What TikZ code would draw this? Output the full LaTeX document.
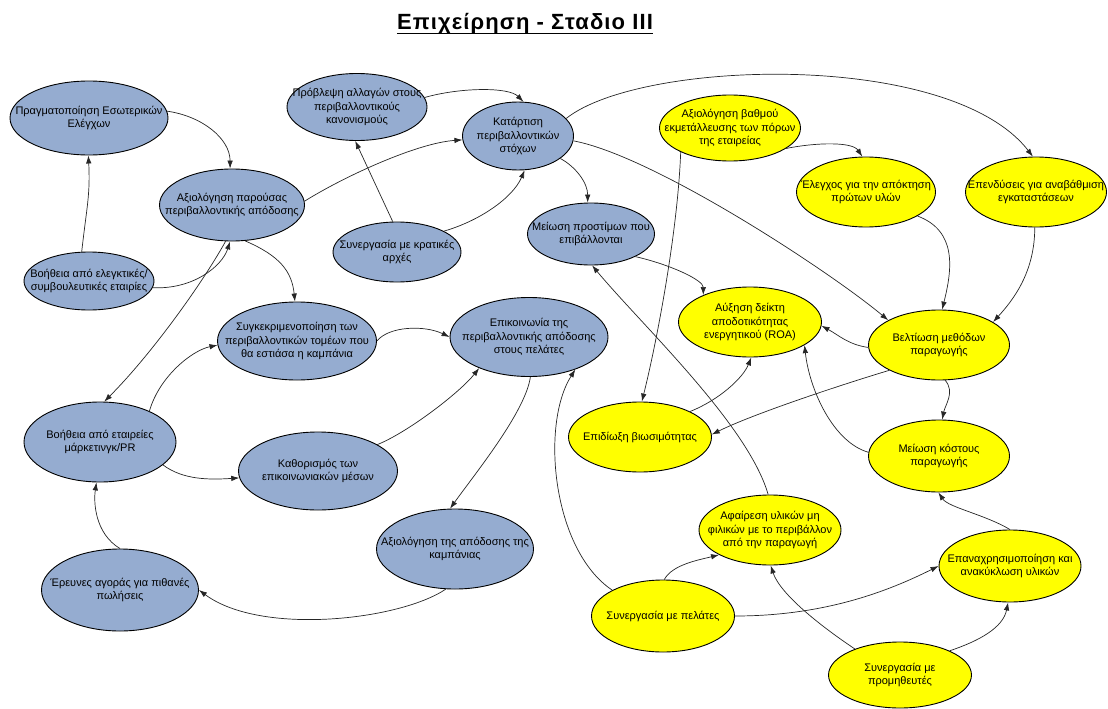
\documentclass[tikz,border=0pt]{standalone}
\usepackage{fontspec}
\setmainfont{Liberation Sans}
\newfontfamily\titlefont[LetterSpace=5]{Liberation Sans Bold}
\usetikzlibrary{shapes.geometric,arrows.meta}
\definecolor{stageblue}{RGB}{149,172,208}
\definecolor{stageyellow}{RGB}{255,255,0}

\begin{document}
\begin{tikzpicture}[x=1pt,y=-1pt,
    goal/.style={ellipse,draw=black,line width=0.9pt,inner sep=0pt},
    bluegoal/.style={goal,fill=stageblue},
    yellowgoal/.style={goal,fill=stageyellow},
    goaltext/.style={align=center,inner sep=0pt,font=\fontsize{11}{13.5}\selectfont},
    link/.style={draw=black!85,line width=0.7pt,-{Latex[length=8pt,width=5.5pt]}}]
\useasboundingbox (0,0) rectangle (1108,709);

% Title
\node[anchor=base,inner sep=0pt,font=\titlefont\fontsize{22}{26}\selectfont] (title) at (525,30) {Επιχείρηση - Σταδιο III};%
\draw[line width=1.8pt] ([yshift=-3.5pt]title.base west) -- ([yshift=-3.5pt]title.base east);%

% Drawing blue goals
\node[bluegoal,minimum width=158pt,minimum height=74pt,label={[goaltext]center:{Πραγματοποίηση Εσωτερικών\\Ελέγχων}}] (prag) at (89,118) {};%
\node[bluegoal,minimum width=145pt,minimum height=72pt,label={[goaltext]center:{Αξιολόγηση παρούσας\\περιβαλλοντικής απόδοσης}}] (apar) at (232,205) {};%
\node[bluegoal,minimum width=130pt,minimum height=58pt,label={[goaltext]center:{Βοήθεια από ελεγκτικές/\\συμβουλευτικές εταιρίες}}] (velegk) at (89,281) {};%
\node[bluegoal,minimum width=140pt,minimum height=67pt,label={[goaltext]center:{Πρόβλεψη αλλαγών στους\\περιβαλλοντικούς\\κανονισμούς}}] (prov) at (357,107) {};%
\node[bluegoal,minimum width=111pt,minimum height=68pt,label={[goaltext]center:{Κατάρτιση\\περιβαλλοντικών\\στόχων}}] (katart) at (518,136) {};%
\node[bluegoal,minimum width=128pt,minimum height=60pt,label={[goaltext]center:{Συνεργασία με κρατικές\\αρχές}}] (kratikes) at (397,252) {};%
\node[bluegoal,minimum width=127pt,minimum height=62pt,label={[goaltext]center:{Μείωση προστίμων που\\επιβάλλονται}}] (prostima) at (591,234) {};%
\node[bluegoal,minimum width=159pt,minimum height=78pt,label={[goaltext]center:{Συγκεκριμενοποίηση των\\περιβαλλοντικών τομέων που\\θα εστιάσα η καμπάνια}}] (sygk) at (297,341) {};%
\node[bluegoal,minimum width=158pt,minimum height=79pt,label={[goaltext]center:{Επικοινωνία της\\περιβαλλοντικής απόδοσης\\στους πελάτες}}] (epik) at (529,337) {};%
\node[bluegoal,minimum width=152pt,minimum height=80pt,label={[goaltext]center:{Βοήθεια από εταιρείες\\μάρκετινγκ/PR}}] (vmark) at (100,442) {};%
\node[bluegoal,minimum width=159pt,minimum height=78pt,label={[goaltext]center:{Καθορισμός των\\επικοινωνιακών μέσων}}] (kath) at (318,471) {};%
\node[bluegoal,minimum width=157pt,minimum height=80pt,label={[goaltext]center:{Αξιολόγηση της απόδοσης της\\καμπάνιας}}] (akamp) at (455,549) {};%
\node[bluegoal,minimum width=157pt,minimum height=82pt,label={[goaltext]center:{Έρευνες αγοράς για πιθανές\\πωλήσεις}}] (erevnes) at (120,590) {};%

% Drawing yellow goals
\node[yellowgoal,minimum width=141pt,minimum height=66pt,label={[goaltext]center:{Αξιολόγηση βαθμού\\εκμετάλλευσης των πόρων\\της εταιρείας}}] (avath) at (730,128) {};%
\node[yellowgoal,minimum width=139pt,minimum height=70pt,label={[goaltext]center:{Έλεγχος για την απόκτηση\\πρώτων υλών}}] (elegxos) at (866,192) {};%
\node[yellowgoal,minimum width=141pt,minimum height=70pt,label={[goaltext]center:{Επενδύσεις για αναβάθμιση\\εγκαταστάσεων}}] (epend) at (1036,192) {};%
\node[yellowgoal,minimum width=143pt,minimum height=70pt,label={[goaltext]center:{Αύξηση δείκτη\\αποδοτικότητας\\ενεργητικού (ROA)}}] (afxisi) at (750,322) {};%
\node[yellowgoal,minimum width=141pt,minimum height=70pt,label={[goaltext]center:{Βελτίωση μεθόδων\\παραγωγής}}] (veltiosi) at (939,345) {};%
\node[yellowgoal,minimum width=143pt,minimum height=70pt,label={[goaltext]center:{Επιδίωξη βιωσιμότητας}}] (epidioxi) at (640,437) {};%
\node[yellowgoal,minimum width=141pt,minimum height=72pt,label={[goaltext]center:{Μείωση κόστους\\παραγωγής}}] (mkostous) at (939,456) {};%
\node[yellowgoal,minimum width=142pt,minimum height=70pt,label={[goaltext]center:{Αφαίρεση υλικών μη\\φιλικών με το περιβάλλον\\από την παραγωγή}}] (afairesi) at (770,530) {};%
\node[yellowgoal,minimum width=142pt,minimum height=72pt,label={[goaltext]center:{Επαναχρησιμοποίηση και\\ανακύκλωση υλικών}}] (epanax) at (1010,566) {};%
\node[yellowgoal,minimum width=143pt,minimum height=72pt,label={[goaltext]center:{Συνεργασία με πελάτες}}] (spelates) at (663,616) {};%
\node[yellowgoal,minimum width=143pt,minimum height=66pt,label={[goaltext]center:{Συνεργασία με\\προμηθευτές}}] (sprom) at (900,675) {};%

% Drawing links of the blue part
\draw[link] (prag.5) .. controls +(35,5) and +(0,-30) .. (apar.93);%
\draw[link] (velegk.104) .. controls +(5,-45) and +(2,40) .. (prag.269);%
\draw[link] (velegk.-6) .. controls +(40,2) and +(-8,25) .. (apar.267);%
\draw[link] (apar.260) .. controls +(-25,45) and +(45,-45) .. (vmark.84);%
\draw[link] (apar.290) .. controls +(35,15) and +(-3,-30) .. (sygk.93);%
\draw[link] (apar.3) .. controls +(40,-25) and +(-45,3) .. (katart.184);%
\draw[link] (prov.8) .. controls +(35,-10) and +(-15,-15) .. (katart.81);%
\draw[link] (kratikes.98) -- (prov.267);%
\draw[link] (kratikes.24) .. controls +(35,-10) and +(-12,28) .. (katart.281);%
\draw[link] (katart.-28) .. controls +(15,8) and +(0,-20) .. (prostima.96);%
\draw[link] (katart.20) .. controls +(74,-59) and +(-83,-107) .. (epend.95);%
\draw[link] (katart.-5) .. controls +(80,15) and +(-60,-50) .. (veltiosi.154);%
\draw[link] (sygk.0) .. controls +(12,-15) and +(-25,-12) .. (epik.180);%
\draw[link] (kath.24) .. controls +(30,-12) and +(-20,25) .. (epik.212);%
\draw[link] (epik.272) .. controls +(-5,35) and +(25,-35) .. (akamp.97);%
\draw[link] (vmark.32) .. controls +(10,-35) and +(-25,5) .. (sygk.183);%
\draw[link] (vmark.-20) .. controls +(20,15) and +(-30,2) .. (kath.185);%
\draw[link] (erevnes.90) .. controls +(-25,-15) and +(-3,20) .. (vmark.265);%
\draw[link] (akamp.257) .. controls +(-46,31) and +(62,46) .. (erevnes.0);%

% Drawing links of the yellow part
\draw[link] (avath.-20) .. controls +(30,-6) and +(-10,-15) .. (elegxos.96);%
\draw[link] (avath.206) .. controls +(-3,80) and +(15,-60) .. (epidioxi.87);%
\draw[link] (elegxos.-25) .. controls +(40,15) and +(10,-40) .. (veltiosi.85);%
\draw[link] (epend.268) .. controls +(0,45) and +(20,-22) .. (veltiosi.23);%
\draw[link] (prostima.-27) .. controls +(35,8) and +(0,-15) .. (afxisi.150);%
\draw[link] (veltiosi.182) .. controls +(-20,-3) and +(18,10) .. (afxisi.-3);%
\draw[link] (veltiosi.207) .. controls +(-50,15) and +(40,-20) .. (epidioxi.2);%
\draw[link] (veltiosi.280) .. controls +(10,12) and +(3,-15) .. (mkostous.85);%
\draw[link] (epidioxi.27) .. controls +(30,-12) and +(-8,20) .. (afxisi.272);%
\draw[link] (mkostous.177) .. controls +(-35,-10) and +(5,45) .. (afxisi.-23);%
\draw[link] (afairesi.93) .. controls +(-20,-70) and +(50,60) .. (prostima.-88);%
\draw[link] (spelates.153) .. controls +(-60,-40) and +(-35,55) .. (epik.-35);%
\draw[link] (spelates.88) .. controls +(8,-15) and +(-20,5) .. (afairesi.206);%
\draw[link] (spelates.0) .. controls +(90,0) and +(-50,25) .. (epanax.180);%
\draw[link] (sprom.150) .. controls +(-30,-20) and +(10,30) .. (afairesi.271);%
\draw[link] (sprom.26) .. controls +(30,-10) and +(-5,25) .. (epanax.267);%
\draw[link] (epanax.90) .. controls +(-25,-15) and +(10,15) .. (mkostous.269);%
\end{tikzpicture}
\end{document}
